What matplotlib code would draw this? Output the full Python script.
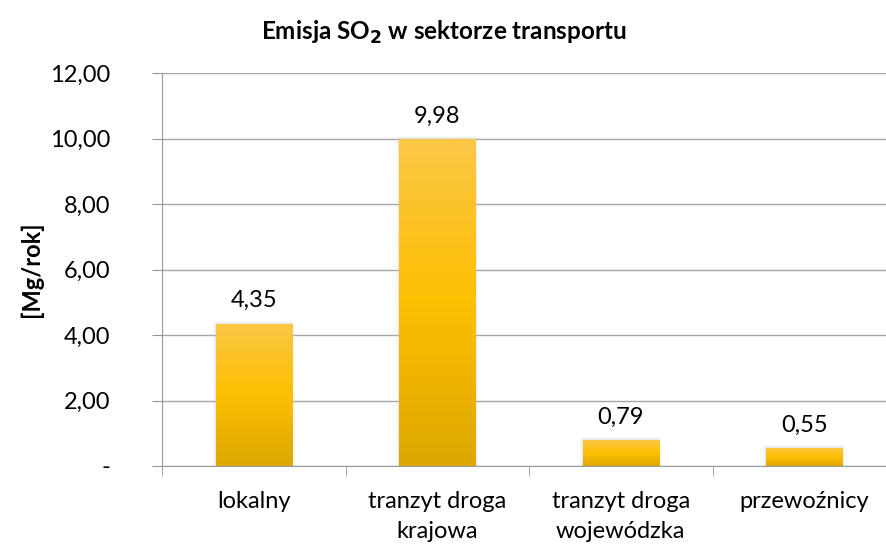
import numpy as np
import matplotlib.pyplot as plt
from matplotlib.colors import LinearSegmentedColormap

categories = ['lokalny', 'tranzyt droga\nkrajowa', 'tranzyt droga\nwojewódzka', 'przewoźnicy']
values = [4.35, 9.98, 0.79, 0.55]
yticks = [0, 2, 4, 6, 8, 10, 12]
ytick_labels = ['-', '2,00', '4,00', '6,00', '8,00', '10,00', '12,00']

plt.rcParams['font.family'] = ['Lato', 'DejaVu Sans']

W, H = 887, 545
fig = plt.figure(figsize=(W / 100, H / 100), dpi=100)
# oś wychodzi poza prawą krawędź, jak w oryginale
ax = fig.add_axes([162 / W, 1 - 466 / H, 734 / W, 393 / H])

x = np.arange(len(categories))
bars = ax.bar(x, values, width=0.415, color='none', zorder=2)

# pionowy gradient na słupkach
cmap = LinearSegmentedColormap.from_list('gold', ['#dca700', '#fdbf00', '#fbc747'])
grad = np.linspace(0, 1, 256).reshape(-1, 1)
for b in bars:
    x0, y0 = b.get_x(), b.get_y()
    w, h = b.get_width(), b.get_height()
    # delikatny cień
    for k, a in [(0.03, 0.10), (0.018, 0.15), (0.008, 0.2)]:
        ax.bar(x0 + w / 2, h + k * 6, width=w + k, bottom=-k * 3, color='#c8c8c8',
               alpha=a, zorder=1.5, linewidth=0)
    im = ax.imshow(grad, cmap=cmap, extent=[x0, x0 + w, y0, y0 + h], origin='lower',
                   aspect='auto', zorder=2)
    im.set_clip_path(b)
    ax.text(x0 + w / 2, h + 0.5, format(h, '.2f').replace('.', ','), ha='center', va='baseline',
            fontsize=17)

ax.set_xlim(-0.5, len(categories) - 0.5)
ax.set_ylim(0, 12)
ax.set_yticks(yticks)
ax.set_yticklabels(ytick_labels, fontsize=17)
ax.set_xticks(x)
ax.set_xticklabels(categories, fontsize=17, linespacing=1.55)
ax.set_xticks(np.arange(-0.5, len(categories)), minor=True)
ax.tick_params(axis='x', which='major', length=0, pad=18)
ax.tick_params(axis='x', which='minor', length=7, color='#9a9a9a')
ax.tick_params(axis='y', length=7, color='#9a9a9a', pad=30)

ax.grid(axis='y', color='#a6a6a6', linewidth=1)
ax.set_axisbelow(True)
for s in ['top', 'right']:
    ax.spines[s].set_visible(False)
ax.spines['left'].set_color('#9a9a9a')
ax.spines['bottom'].set_color('#9a9a9a')

ax.set_ylabel('[Mg/rok]', fontsize=17, fontweight='bold', labelpad=5)
fig.text(0.5, 1 - 32 / H, 'Emisja SO$_\\mathbf{2}$ w sektorze transportu', ha='center', va='center',
         fontsize=17.5, fontweight='bold')

fig.savefig('out.png', dpi=100)
